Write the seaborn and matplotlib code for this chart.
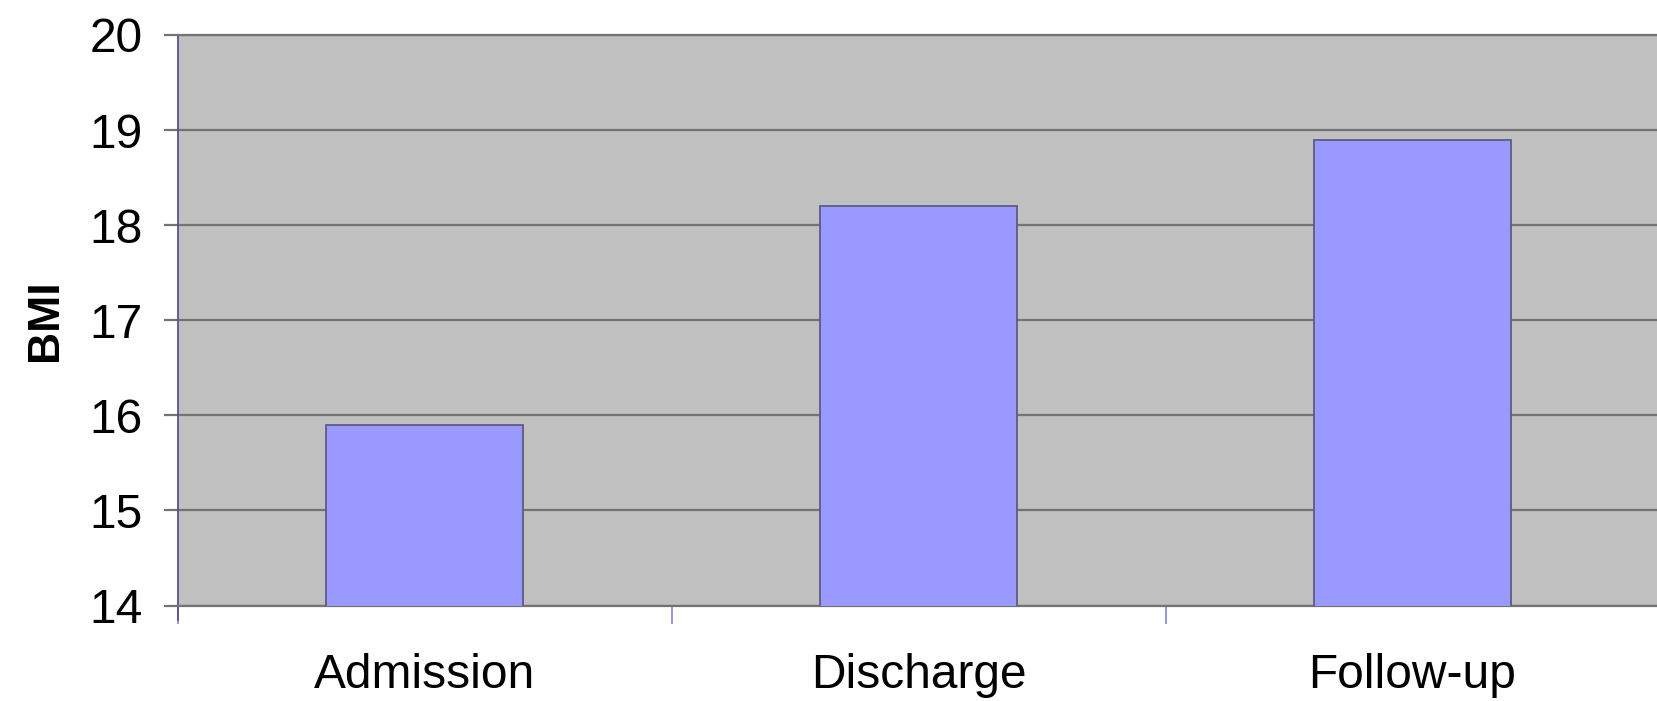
import matplotlib
matplotlib.use("Agg")
import matplotlib.pyplot as plt
import seaborn as sns
import pandas as pd
from matplotlib.ticker import FixedLocator

# Mean BMI at each stage of treatment
stages = ["Admission", "Discharge", "Follow-up"]
bmi = [15.9, 18.2, 18.9]
y_ticks = [14, 15, 16, 17, 18, 19, 20]

sns.set_theme(style="white")
plt.rcParams["font.family"] = ["Liberation Sans", "DejaVu Sans"]

df = pd.DataFrame({"stage": stages, "BMI": bmi})

fig = plt.figure(figsize=(16.57, 7.01), dpi=100)
ax = fig.add_axes([177.5 / 1657, 95.5 / 701, 1482 / 1657, 570.5 / 701])
ax.set_facecolor("#c0c0c0")

sns.barplot(data=df, x="stage", y="BMI", color="#9999ff", saturation=1,
            width=0.4, edgecolor="#5c5c80", linewidth=1.3, ax=ax, zorder=3)

ax.set_ylim(y_ticks[0], y_ticks[-1])
ax.set_xlim(-0.5, len(stages) - 0.5)
ax.set_yticks(y_ticks)
ax.yaxis.grid(True, color="#737373", linewidth=1.6, zorder=1)
ax.set_axisbelow(True)

# category separators as small ticks below the plot
ax.xaxis.set_minor_locator(FixedLocator([i - 0.5 for i in range(len(stages))]))
ax.tick_params(axis="x", which="minor", bottom=True, length=13, width=1.3,
               color="#8c8ce0")
ax.tick_params(axis="x", which="major", bottom=False, length=0, pad=34,
               labelsize=34.5, labelcolor="black")
ax.tick_params(axis="y", which="major", left=True, length=10, width=1.6,
               color="#737373", pad=15, labelsize=34.5, labelcolor="black")

ax.set_xlabel("")
ax.set_ylabel("BMI", fontsize=32, fontweight="bold", labelpad=17, color="black")

for side in ["top", "bottom"]:
    ax.spines[side].set_color("#737373")
    ax.spines[side].set_linewidth(1.6)
ax.spines["right"].set_visible(False)
ax.spines["left"].set_color("#55558f")
ax.spines["left"].set_linewidth(1.3)
ax.spines["left"].set_bounds(y_ticks[0] - 0.15, y_ticks[-1])

fig.savefig("out.png", dpi=100, facecolor="white")
